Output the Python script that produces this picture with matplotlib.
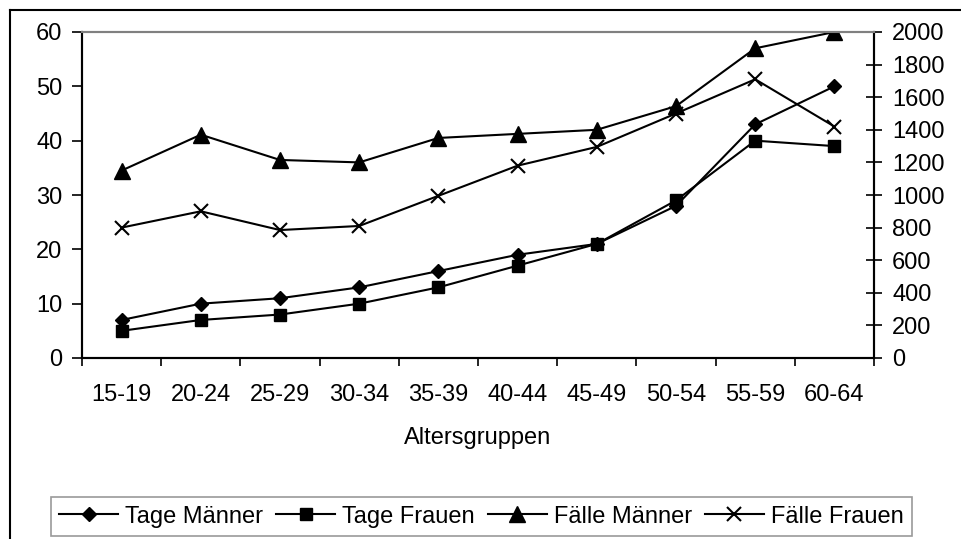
import matplotlib
matplotlib.use("Agg")
import matplotlib.pyplot as plt
from matplotlib.lines import Line2D

plt.rcParams['font.family'] = ['Liberation Sans', 'DejaVu Sans']

# Altersgruppen und Werte (Tage links, Fälle rechts)
altersgruppen = ["15-19", "20-24", "25-29", "30-34", "35-39",
                 "40-44", "45-49", "50-54", "55-59", "60-64"]
tage_maenner = [7, 10, 11, 13, 16, 19, 21, 28, 43, 50]
tage_frauen = [5, 7, 8, 10, 13, 17, 21, 29, 40, 39]
faelle_maenner = [1150, 1370, 1215, 1200, 1350, 1375, 1400, 1545, 1900, 2000]
faelle_frauen = [800, 900, 785, 810, 995, 1180, 1295, 1500, 1710, 1420]

W, H = 962, 539
FS = 17

fig = plt.figure(figsize=(W / 100, H / 100), dpi=100)

# Außenrahmen (rechts und unten abgeschnitten)
fig.add_artist(Line2D([10 / W, 10 / W], [0, 1 - 10 / H], color='black', lw=1.5,
                      transform=fig.transFigure))
fig.add_artist(Line2D([10 / W, 1], [1 - 10 / H, 1 - 10 / H], color='black', lw=1.5,
                      transform=fig.transFigure))

left, right, top, bottom = 82, 874, 32, 358
ax = fig.add_axes([left / W, 1 - bottom / H, (right - left) / W, (bottom - top) / H])
ax2 = ax.twinx()

x = list(range(len(altersgruppen)))
kw = dict(color='black', lw=1.5, markeredgecolor='black', markerfacecolor='black')
l1, = ax.plot(x, tage_maenner, marker='D', markersize=7, **kw)
l2, = ax.plot(x, tage_frauen, marker='s', markersize=9, **kw)
l3, = ax2.plot(x, faelle_maenner, marker='^', markersize=11, **kw)
l4, = ax2.plot(x, faelle_frauen, marker='x', markersize=10, markeredgewidth=1.5,
               color='black', lw=1.5)

ax.set_xlim(-0.5, len(altersgruppen) - 0.5)
ax.set_ylim(0, 60)
ax.set_yticks(range(0, 61, 10))
ax2.set_ylim(0, 2000)
ax2.set_yticks(range(0, 2001, 200))

# Striche an den Gruppengrenzen, Beschriftung in der Mitte
ax.set_xticks([i - 0.5 for i in range(len(altersgruppen) + 1)])
ax.set_xticklabels([])
ax.set_xticks(x, minor=True)
ax.tick_params(axis='x', which='major', direction='out', length=6, width=1.2)
ax.set_xticklabels(altersgruppen, minor=True)
ax.tick_params(axis='x', which='minor', length=0, pad=19, labelsize=FS)
ax.tick_params(axis='y', direction='out', length=7, width=1.2, pad=7, labelsize=FS)
ax2.tick_params(axis='y', direction='inout', length=12, width=1.2, pad=7, labelsize=FS)

for a in (ax, ax2):
    a.spines['top'].set_color('#808080')
    a.spines['top'].set_linewidth(1.5)
    for s in ('left', 'bottom', 'right'):
        a.spines[s].set_linewidth(1.5)
        a.spines[s].set_color('black')

fig.text((left + right) / 2 / W, 1 - 438 / H, "Altersgruppen", ha='center', va='center',
         fontsize=FS)

leg = fig.legend([l1, l2, l3, l4], ["Tage Männer", "Tage Frauen", "Fälle Männer", "Fälle Frauen"],
                 loc='upper left', bbox_to_anchor=(51 / W, 1 - 498 / H, (912 - 51) / W, 0.001),
                 mode='expand', ncol=4, fontsize=FS, frameon=True, fancybox=False,
                 handlelength=2.5, handletextpad=0.3, columnspacing=0.4, borderpad=0.35,
                 borderaxespad=0)
leg.get_frame().set_edgecolor('#808080')
leg.get_frame().set_linewidth(1.2)

fig.savefig("out.png", dpi=100)
